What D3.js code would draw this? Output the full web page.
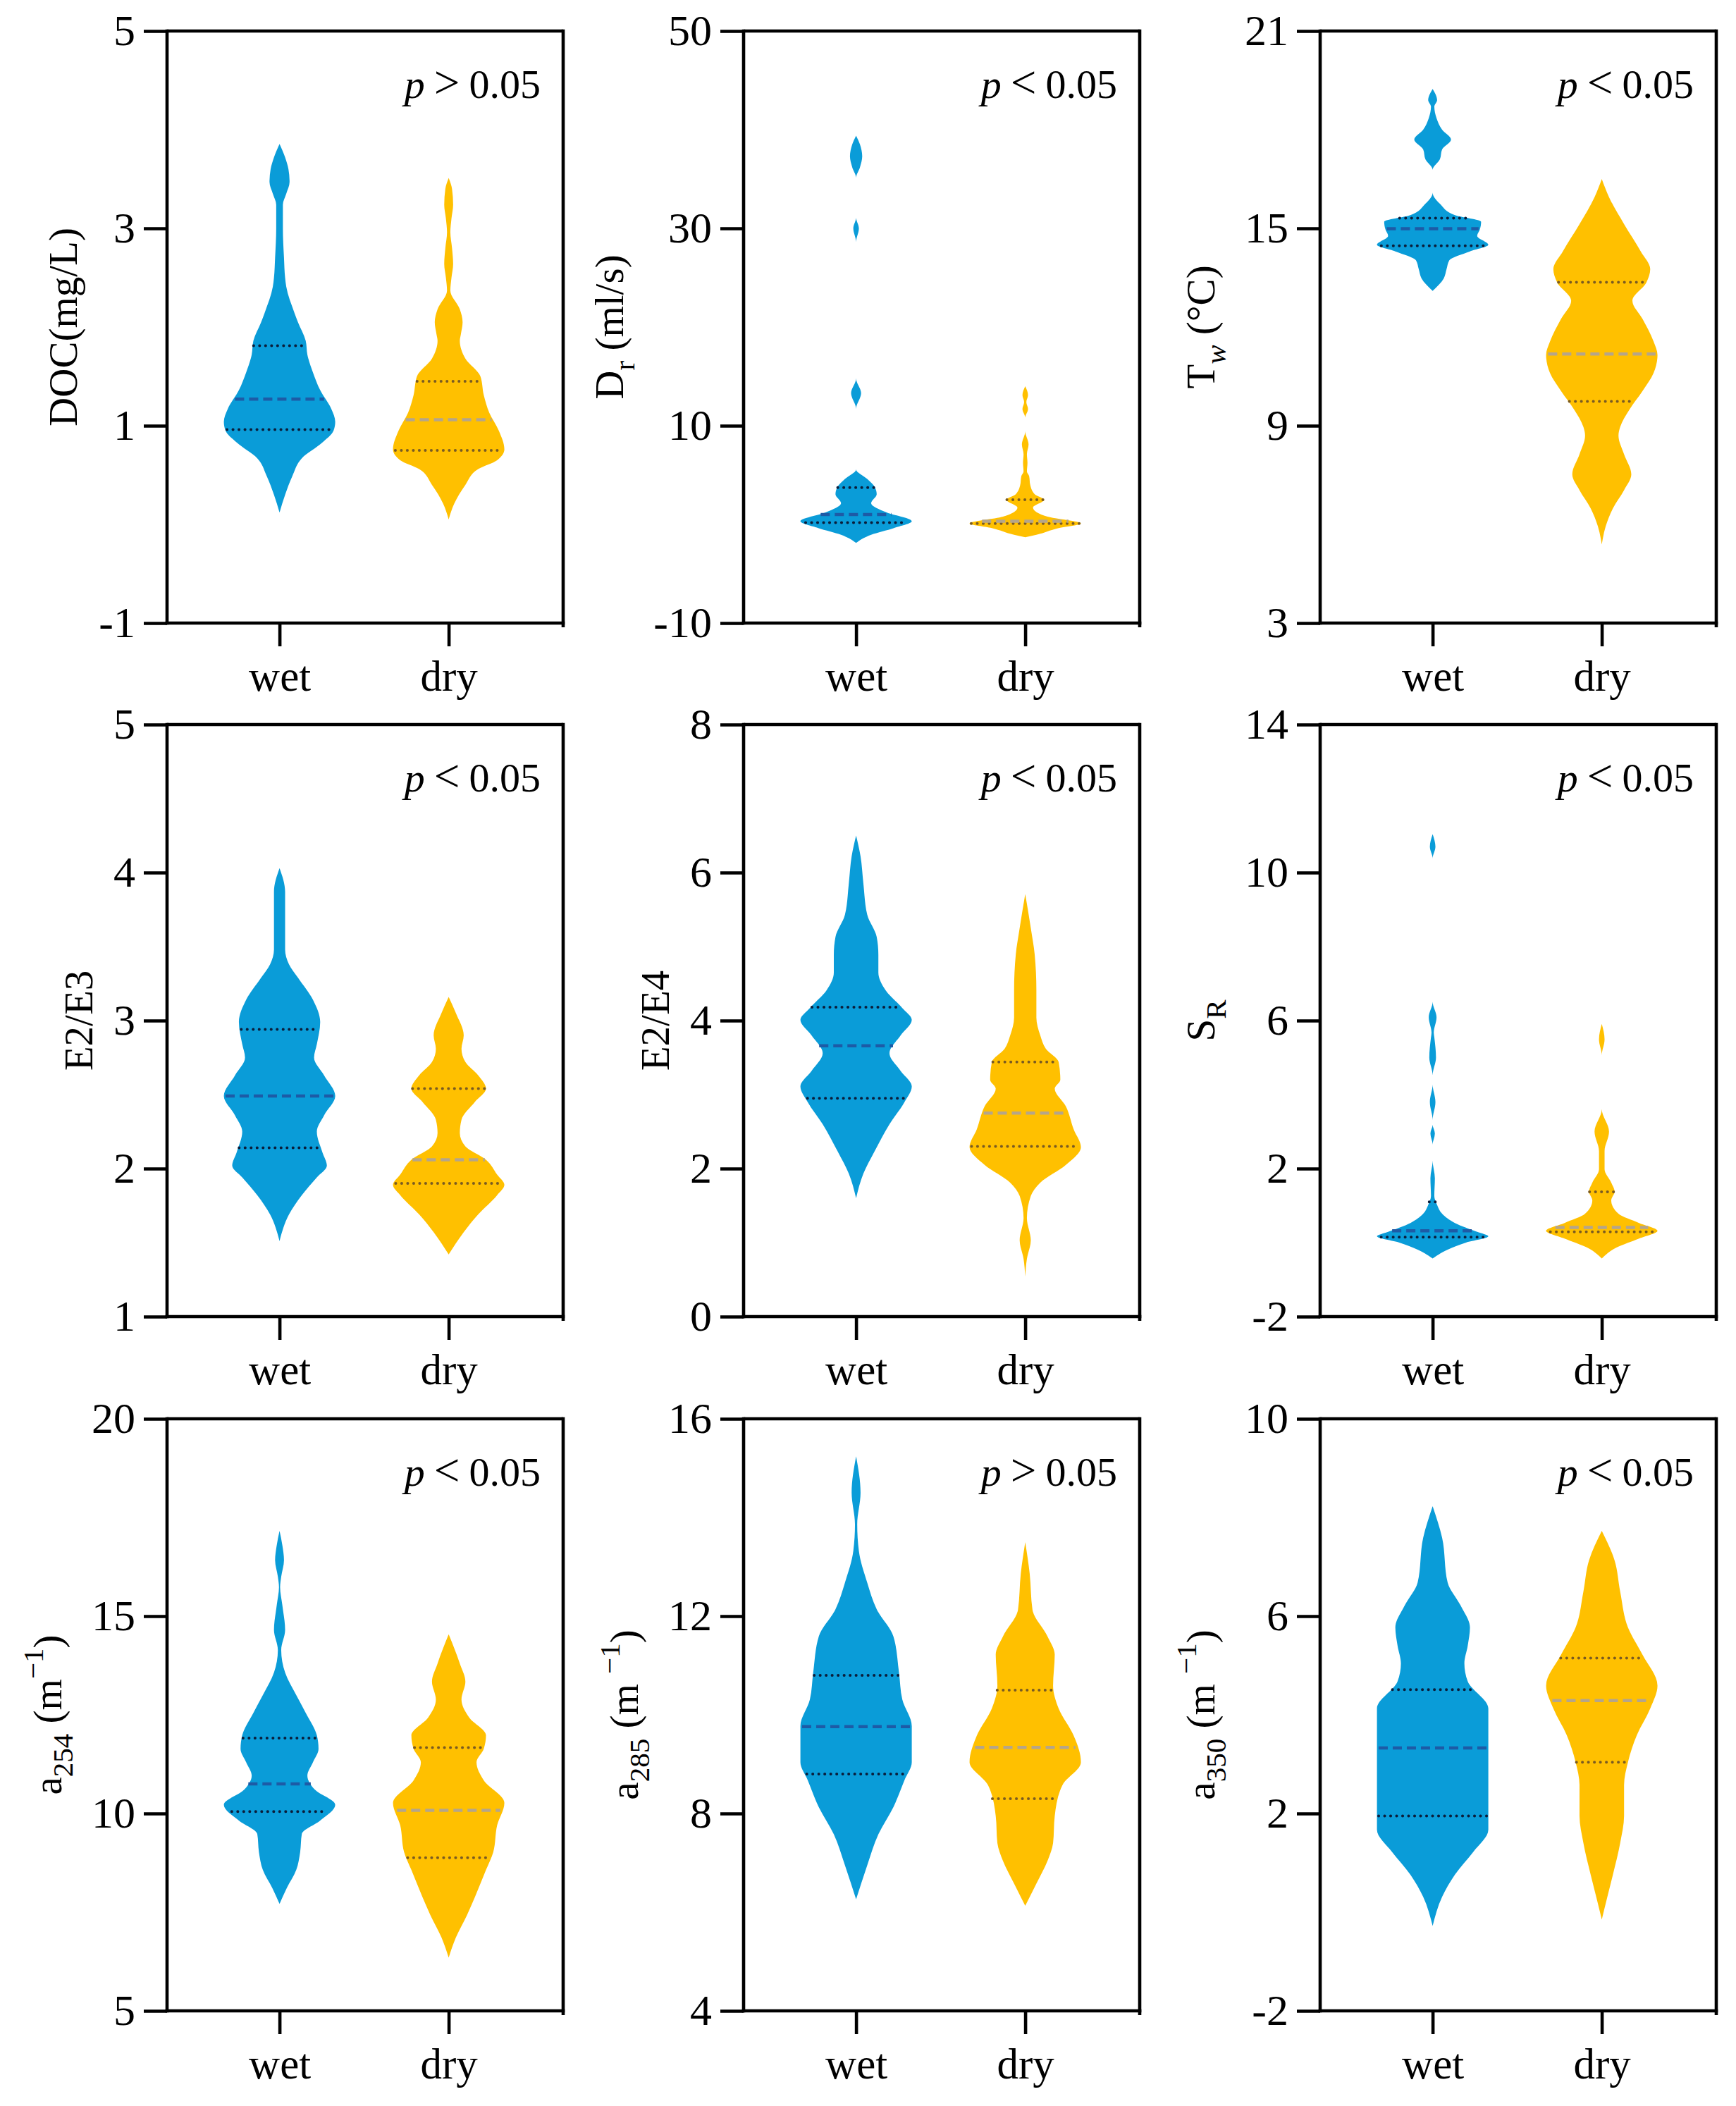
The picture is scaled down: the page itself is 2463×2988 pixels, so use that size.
<!DOCTYPE html>
<html><head><meta charset="utf-8">
<script src="https://cdn.jsdelivr.net/npm/d3@7"></script>
<style>
body{margin:0;background:#fff}
svg text{font-family:"Liberation Serif","Times New Roman",serif;fill:#000}
</style>
</head><body>
<svg id="c" width="2463" height="2988"></svg>
<script>
// ---------------- data ----------------
const groups = ["wet", "dry"];

const yDomains = [[-1,5],[-10,50],[3,21],[1,5],[0,8],[-2,14],[5,20],[4,16],[-2,10]];
const yTicks = [[-1,1,3,5],[-10,10,30,50],[3,9,15,21],[1,2,3,4,5],[0,2,4,6,8],[-2,2,6,10,14],[5,10,15,20],[4,8,12,16],[-2,2,6,10]];
const pSigns = [">","<","<","<","<","<","<",">","<"];
const yTitles = [
  [["DOC(mg/L)"]],
  [["D"],["r","sub"],[" (ml/s)"]],
  [["T"],["w","subi"],[" (°C)"]],
  [["E2/E3"]],
  [["E2/E4"]],
  [["S"],["R","sub"]],
  [["a"],["254","sub"],[" (m"],["−1","sup"],[")"]],
  [["a"],["285","sub"],[" (m "],["−1","sup"],[")"]],
  [["a"],["350","sub"],[" (m "],["−1","sup"],[")"]]
];

// violin outlines: [value, relative half-width]
const wetProfiles = [
  [[3.855,0],[3.72,0.1],[3.6,0.16],[3.47,0.18],[3.35,0.12],[3.24,0.06],[3.0,0.06],[2.7,0.08],[2.5,0.1],[2.41,0.12],[2.14,0.27],[2.05,0.33],[1.86,0.47],[1.72,0.5],[1.54,0.6],[1.36,0.73],[1.17,0.93],[1.04,1.0],[0.95,0.97],[0.83,0.77],[0.67,0.4],[0.49,0.23],[0.30,0.1],[0.12,0]],
  [[39.4,0],[38.5,0.07],[37.3,0.11],[36.2,0.07],[35.1,0],[31.1,0],[30,0.05],[28.6,0],[14.8,0],[13.3,0.09],[11.7,0],[5.57,0],[4.6,0.2],[3.74,0.34],[3.06,0.37],[2.15,0.27],[1.23,0.54],[0.32,1.0],[-0.37,0.68],[-1.05,0.27],[-1.87,0]],
  [[19.24,0],[18.9,0.08],[18.7,0.03],[18.35,0.07],[18.0,0.17],[17.7,0.33],[17.4,0.17],[17.1,0.13],[16.78,0],[16.09,0],[15.75,0.13],[15.4,0.4],[15.2,0.87],[14.98,0.85],[14.77,0.8],[14.5,1.0],[14.3,0.67],[14.03,0.3],[13.76,0.25],[13.48,0.2],[13.1,0]],
  [[4.03,0],[3.87,0.1],[3.69,0.1],[3.48,0.1],[3.38,0.17],[3.29,0.33],[3.14,0.6],[2.99,0.73],[2.84,0.67],[2.75,0.62],[2.63,0.8],[2.49,1.0],[2.36,0.8],[2.25,0.67],[2.11,0.77],[2.02,0.85],[1.94,0.67],[1.82,0.4],[1.69,0.17],[1.51,0]],
  [[6.5,0],[6.22,0.08],[5.86,0.13],[5.43,0.2],[5.13,0.37],[4.89,0.4],[4.65,0.4],[4.41,0.53],[4.17,0.83],[4.01,1.0],[3.8,0.8],[3.56,0.6],[3.32,0.8],[3.11,1.0],[2.9,0.87],[2.6,0.6],[2.23,0.33],[1.93,0.13],[1.6,0]],
  [[11.04,0],[10.7,0.05],[10.38,0],[6.51,0],[6.09,0.07],[5.67,0.02],[5.55,0.03],[5.0,0.06],[4.52,0],[4.28,0],[3.8,0.05],[3.31,0],[3.19,0],[2.95,0.04],[2.65,0],[2.22,0],[1.74,0.04],[1.26,0.03],[1.02,0.08],[0.78,0.17],[0.53,0.4],[0.29,0.8],[0.17,1.0],[0.0,0.6],[-0.19,0.27],[-0.43,0]],
  [[17.16,0],[16.8,0.05],[16.42,0.08],[16.0,0.03],[15.73,0.01],[15.28,0.05],[14.65,0.1],[14.14,0.03],[13.57,0.1],[13.0,0.3],[12.55,0.47],[11.98,0.67],[11.64,0.7],[11.3,0.6],[10.96,0.5],[10.61,0.63],[10.22,1.0],[9.82,0.73],[9.48,0.4],[9.02,0.37],[8.57,0.3],[8.11,0.13],[7.71,0]],
  [[15.24,0],[14.5,0.08],[13.86,0.02],[13.32,0.05],[12.68,0.2],[12.14,0.37],[11.59,0.67],[10.86,0.77],[10.31,0.83],[9.77,1.0],[9.04,1.0],[8.68,0.87],[8.13,0.67],[7.58,0.4],[6.95,0.2],[6.26,0]],
  [[8.23,0],[7.59,0.17],[6.68,0.27],[6.22,0.5],[5.77,0.67],[5.4,0.63],[5.04,0.57],[4.68,0.63],[4.13,1.0],[3.04,1.0],[1.67,1.0],[1.22,0.73],[0.76,0.4],[0.31,0.17],[-0.28,0]]
];
const dryProfiles = [
  [[3.51,0],[3.4,0.06],[3.24,0.08],[3.1,0.05],[2.96,0.03],[2.8,0.06],[2.64,0.08],[2.5,0.05],[2.37,0.03],[2.18,0.2],[2.05,0.25],[1.93,0.22],[1.86,0.2],[1.68,0.3],[1.5,0.57],[1.31,0.63],[1.13,0.73],[0.95,0.9],[0.76,1.0],[0.65,0.87],[0.56,0.53],[0.40,0.3],[0.21,0.1],[0.05,0]],
  [[14.0,0],[13.1,0.05],[12.4,0.02],[11.7,0.05],[10.8,0],[9.45,0],[8.1,0.06],[7.1,0.03],[6.25,0.04],[5.35,0.03],[4.9,0.07],[4.0,0.09],[3.06,0.17],[2.5,0.34],[1.7,0.14],[0.78,0.4],[0.09,1.0],[-0.37,0.6],[-1.05,0.2],[-1.3,0]],
  [[16.5,0],[15.95,0.13],[15.13,0.4],[14.3,0.7],[13.76,0.87],[13.35,0.8],[12.8,0.55],[12.25,0.73],[11.56,0.93],[11.15,1.0],[10.6,0.93],[10.05,0.73],[9.5,0.5],[8.96,0.33],[8.7,0.3],[8.13,0.4],[7.52,0.53],[7.04,0.4],[6.49,0.2],[5.94,0.07],[5.39,0]],
  [[3.16,0],[3.05,0.13],[2.9,0.27],[2.81,0.23],[2.72,0.3],[2.63,0.53],[2.54,0.67],[2.45,0.47],[2.33,0.23],[2.24,0.2],[2.15,0.3],[2.06,0.67],[1.96,0.87],[1.89,1.0],[1.82,0.87],[1.69,0.53],[1.57,0.27],[1.42,0]],
  [[5.71,0],[5.25,0.1],[4.89,0.17],[4.41,0.2],[4.04,0.2],[3.8,0.27],[3.62,0.37],[3.44,0.6],[3.2,0.63],[3.08,0.53],[2.84,0.73],[2.53,0.87],[2.29,1.0],[2.05,0.73],[1.81,0.27],[1.63,0.1],[1.33,0.03],[1.03,0.1],[0.78,0.03],[0.54,0]],
  [[5.91,0],[5.49,0.05],[5.06,0],[3.61,0],[3.0,0.13],[2.47,0.05],[1.98,0.05],[1.62,0.17],[1.38,0.23],[1.14,0.17],[0.78,0.3],[0.53,0.67],[0.32,1.0],[0.11,0.67],[-0.13,0.27],[-0.43,0]],
  [[14.54,0],[13.8,0.2],[13.34,0.3],[12.89,0.23],[12.43,0.37],[11.98,0.67],[11.64,0.63],[11.3,0.5],[10.84,0.63],[10.27,1.0],[9.7,0.87],[9.02,0.8],[8.57,0.67],[7.88,0.47],[7.43,0.33],[6.86,0.13],[6.35,0]],
  [[13.5,0],[12.86,0.08],[12.13,0.13],[11.59,0.4],[11.22,0.53],[10.59,0.5],[10.13,0.6],[9.58,0.87],[9.04,1.0],[8.58,0.67],[7.95,0.53],[7.4,0.5],[7.04,0.4],[6.58,0.2],[6.13,0]],
  [[7.73,0],[7.13,0.23],[6.5,0.33],[5.77,0.47],[5.22,0.73],[4.59,1.0],[4.13,0.87],[3.59,0.63],[3.04,0.47],[2.58,0.4],[1.95,0.4],[1.4,0.33],[0.76,0.2],[0.31,0.1],[-0.15,0]]
];
// [Q1, median, Q3]
const wetQuartiles = [[0.96,1.27,1.81],[0.18,1.0,3.74],[14.47,14.99,15.31],[2.14,2.49,2.94],[2.95,3.66,4.18],[0.15,0.32,1.1],[10.05,10.75,11.91],[8.8,9.76,10.8],[1.95,3.33,4.51]];
const dryQuartiles = [[0.75,1.06,1.45],[0.09,0.32,2.5],[9.74,11.18,13.36],[1.90,2.06,2.54],[2.30,2.75,3.44],[0.29,0.41,1.37],[8.88,10.08,11.67],[8.3,9.34,10.5],[3.04,4.29,5.15]];

// ---------------- styles / layout ----------------
const colLeft = [237, 1055, 1873], rowTop = [44, 1028, 2013];
const pw = 562, ph = 840, fs = 57, tickFs = 62, catFs = 61, pFs = 58, lw = 4.6;
const fills = {wet: "#0A9CD8", dry: "#FFC000"};
const medColor = {wet: "#1D5BA6", dry: "#B5A58A"};
const qColor = {wet: "#0B1D3A", dry: "#7A5B22"};
const FONT = '"Liberation Serif","Times New Roman",serif';

const svg = d3.select("#c");
svg.append("rect").attr("width", 2463).attr("height", 2988).attr("fill", "#fff");

function halfAt(profile, v) {
  for (let k = 0; k < profile.length - 1; k++) {
    const a = profile[k], b = profile[k + 1];
    if (v <= a[0] && v >= b[0]) {
      const t = (a[0] - v) / (a[0] - b[0] || 1);
      return a[1] + t * (b[1] - a[1]);
    }
  }
  return 0;
}

for (let i = 0; i < 9; i++) {
  const r = Math.floor(i / 3), c = i % 3;
  const g = svg.append("g").attr("transform", `translate(${colLeft[c]},${rowTop[r]})`);
  const y = d3.scaleLinear().domain(yDomains[i]).range([ph, 0]);
  const x = d3.scalePoint().domain(groups).range([0.284 * pw, 0.711 * pw]);
  const wS = d3.scaleLinear().domain([0, 1]).range([0, 79]);

  const data = {wet: {p: wetProfiles[i], q: wetQuartiles[i]}, dry: {p: dryProfiles[i], q: dryQuartiles[i]}};

  groups.forEach(gr => {
    const cx = x(gr), prof = data[gr].p;
    const area = d3.area()
      .y(d => y(d[0]))
      .x0(d => cx - wS(d[1]))
      .x1(d => cx + wS(d[1]))
      .curve(d3.curveMonotoneY);
    g.append("path").attr("d", area(prof)).attr("fill", fills[gr]);
    const q = data[gr].q;
    q.forEach((v, k) => {
      const hw = wS(halfAt(prof, v)) * 0.97;
      const ln = g.append("line")
        .attr("x1", cx - hw).attr("x2", cx + hw)
        .attr("y1", y(v)).attr("y2", y(v));
      if (k === 1) {
        ln.attr("stroke", medColor[gr]).attr("stroke-width", 4.5).attr("stroke-dasharray", "13,7");
      } else {
        ln.attr("stroke", qColor[gr]).attr("stroke-width", 4).attr("stroke-linecap", "round").attr("stroke-dasharray", "0.1,8.4");
      }
    });
  });

  // frame top & right
  g.append("line").attr("x1", 0).attr("x2", pw).attr("y1", 0).attr("y2", 0).attr("stroke", "#000").attr("stroke-width", lw);
  g.append("line").attr("x1", pw).attr("x2", pw).attr("y1", -lw/2).attr("y2", ph + 6).attr("stroke", "#000").attr("stroke-width", lw);

  const ya = g.append("g").call(d3.axisLeft(y).tickValues(yTicks[i]).tickSize(33).tickSizeOuter(0).tickPadding(12).tickFormat(d => String(d)));
  const xa = g.append("g").attr("transform", `translate(0,${ph})`).call(d3.axisBottom(x).tickSize(33).tickSizeOuter(0).tickPadding(20));
  [ya, xa].forEach(a => {
    a.select(".domain").attr("stroke-width", lw).attr("stroke", "#000");
    a.selectAll(".tick line").attr("stroke-width", lw).attr("stroke", "#000");
    a.selectAll("text").attr("font-family", FONT).attr("fill", "#000");
  });
  ya.selectAll("text").attr("font-size", tickFs);
  xa.selectAll("text").attr("font-size", catFs);
  ya.select(".domain").attr("d", `M0,${ph + lw/2}V${-lw/2}`);
  xa.select(".domain").attr("d", `M${-lw/2},0H${pw + lw/2}`);

  // y title
  const axisLeftEdge = ya.node().getBBox().x;
  const tg = g.append("g");
  const tt = tg.append("text").attr("text-anchor", "middle").attr("font-size", fs);
  let shift = 0;
  yTitles[i].forEach(seg => {
    const ts = tt.append("tspan").text(seg[0]);
    let want = 0;
    if (seg[1] === "sub" || seg[1] === "subi") { ts.attr("font-size", fs * 0.72); want = fs * 0.28; }
    if (seg[1] === "subi") ts.attr("font-style", "italic");
    if (seg[1] === "sup") { ts.attr("font-size", fs * 0.72); want = -fs * 0.45; }
    ts.attr("dy", want - shift);
    shift = want;
  });
  const bb = tt.node().getBBox();
  const tx = axisLeftEdge - 18 - (bb.y + bb.height);
  tg.attr("transform", `translate(${tx},${ph / 2}) rotate(-90)`);

  // p-value
  const pt = g.append("text").attr("x", pw - 32).attr("y", 95).attr("text-anchor", "end").attr("font-size", pFs);
  pt.append("tspan").attr("font-style", "italic").text("p");
  pt.append("tspan").attr("font-size", pFs * 1.12).text(`\u2009${pSigns[i]}\u2009`);
  pt.append("tspan").text("0.05");
}
</script>
</body></html>
